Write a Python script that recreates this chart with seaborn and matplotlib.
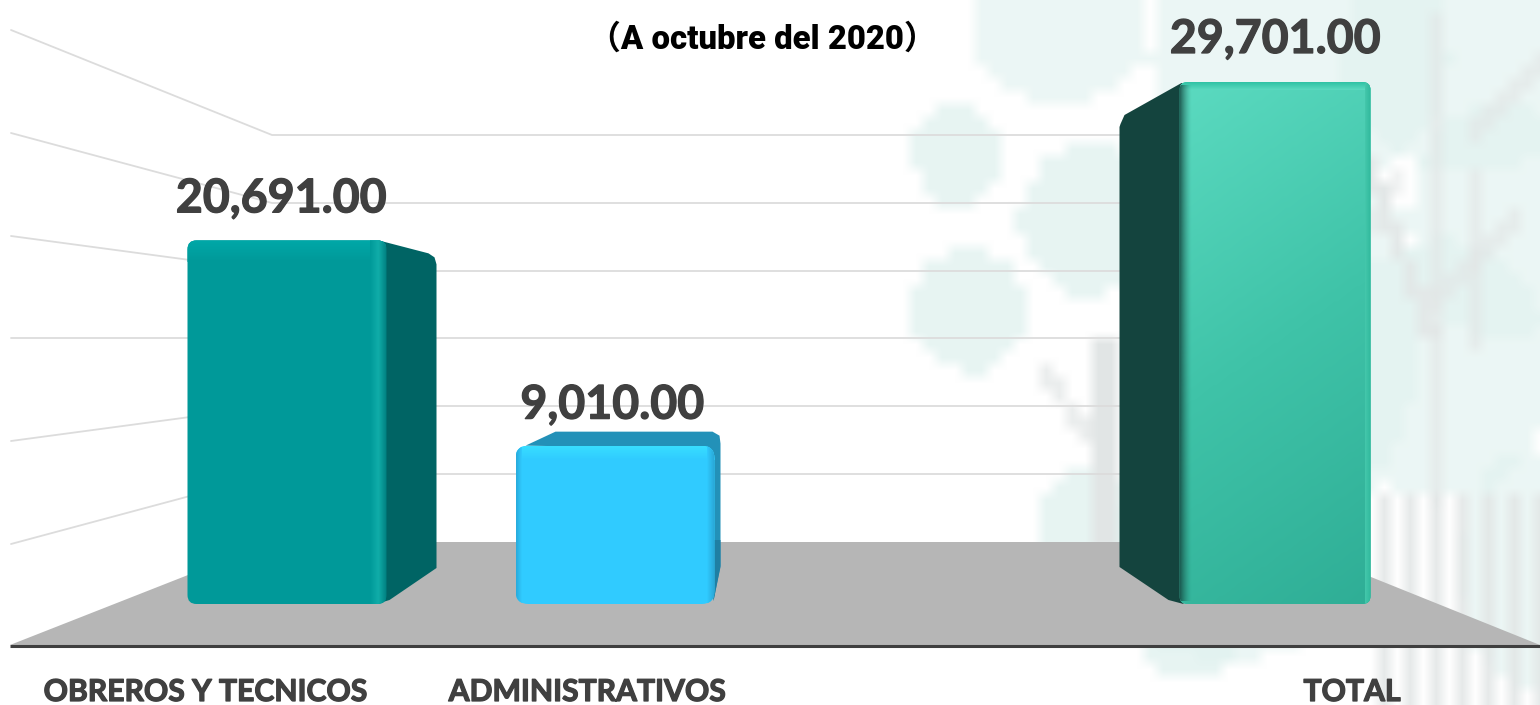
import numpy as np
import pandas as pd
import matplotlib
matplotlib.use('Agg')
import matplotlib.pyplot as plt
import matplotlib.patheffects as pe
import seaborn as sns
from matplotlib.patches import FancyBboxPatch, Polygon, Rectangle
from matplotlib.transforms import Affine2D
from matplotlib.colors import LinearSegmentedColormap, to_rgb

# data
categories = ['OBREROS Y TECNICOS', 'ADMINISTRATIVOS', 'TOTAL']
values = [20691, 9010, 29701]
value_labels = ['20,691.00', '9,010.00', '29,701.00']
slots = ['OBREROS Y TECNICOS', 'ADMINISTRATIVOS', ' ', 'TOTAL']
front_colors = ['#009999', '#30CBFF', '#45C8AC']
subtitle = '（A octubre del 2020）'

W, H = 1540, 705
sns.set_theme(style='white')
plt.rcParams['font.family'] = ['Lato', 'DejaVu Sans']

fig = plt.figure(figsize=(W / 100, H / 100), dpi=100, facecolor='white')

# background layer works in picture pixels
bg = fig.add_axes([0, 0, 1, 1])
bg.set_xlim(0, W)
bg.set_ylim(H, 0)
bg.axis('off')

# pale blocky watermark on a coarse grid
cell = 13
gx, gy = np.meshgrid(np.arange(0, W + cell, cell) + cell / 2, np.arange(0, H + cell, cell) + cell / 2)
paper = np.ones(gx.shape + (3,))
teal = np.array([0.875, 0.945, 0.935])
gray = np.array([0.885, 0.9, 0.9])


def blob(cx, cy, rx, ry, col, mix=1.0):
    m = ((gx - cx) / rx) ** 2 + ((gy - cy) / ry) ** 2 < 1
    paper[m] = paper[m] * (1 - mix) + col * mix


def stroke(x0, y0, x1, y1, w, col, mix=1.0):
    dx, dy = x1 - x0, y1 - y0
    t = np.clip(((gx - x0) * dx + (gy - y0) * dy) / (dx * dx + dy * dy), 0, 1)
    m = np.hypot(gx - x0 - t * dx, gy - y0 - t * dy) < w
    paper[m] = paper[m] * (1 - mix) + col * mix


for b in [(1060, 30, 85, 75), (1300, 60, 150, 130), (1470, 60, 130, 110), (1440, 370, 115, 130),
          (1290, 330, 130, 210), (1530, 570, 70, 120), (1230, 560, 130, 100), (1500, 220, 90, 120)]:
    blob(*b, teal, 0.6)
for b in [(958, 155, 45, 50), (1090, 220, 70, 75), (970, 310, 58, 62), (1090, 525, 55, 60),
          (1190, 645, 42, 35)]:
    blob(*b, teal, 0.75)
stroke(1105, 340, 1105, 545, 7, gray)
stroke(1040, 365, 1090, 440, 8, gray, 0.7)
stroke(1370, 170, 1430, 330, 8, gray, 0.8)
stroke(1440, 20, 1440, 500, 8, gray, 0.6)
stroke(1480, 170, 1480, 350, 8, gray, 0.6)
stroke(1540, 60, 1480, 130, 8, gray, 0.6)
stroke(1520, 220, 1440, 300, 8, gray, 0.6)
stroke(1400, 180, 1360, 230, 8, gray, 0.5)
for sx in range(1380, 1540, 26):
    stroke(sx, 500, sx, 705, 6, gray, 0.85)
bg.imshow(paper, extent=(0, gx.shape[1] * cell, gx.shape[0] * cell, 0), aspect='auto',
          interpolation='bilinear', zorder=0)
bg.set_xlim(0, W)
bg.set_ylim(H, 0)

# wall and floor
grid_col = '#DCDCDC'
wall_left = [30, 133, 236, 338, 441, 544]
wall_back = [135, 203, 271, 338, 406, 474]
for yl, yb in zip(wall_left, wall_back):
    bg.plot([11, 272, 1284], [yl, yb, yb], color=grid_col, lw=1.3, zorder=1)
bg.add_patch(Polygon([(10, 645), (272, 542), (1284, 542), (1540, 645)], closed=True,
                     fc='#B6B6B6', ec='none', zorder=2))
bg.plot([10, W], [646, 646], color='#3F3F3F', lw=2.2, zorder=3, solid_capstyle='butt')

# bars on the value scale
ax = fig.add_axes([0, 0, 1, 1], facecolor='none')
df = pd.DataFrame({'grupo': categories, 'valor': values})
sns.barplot(data=df, x='grupo', y='valor', hue='grupo', order=slots, hue_order=categories,
            palette=front_colors, width=199 / 328, legend=False, saturation=1, ax=ax, zorder=5,
            linewidth=0)
ax.set_xlim(-287 / 328, (W - 287) / 328)
ax.set_ylim(-(H - 604) / 0.017575, 604 / 0.017575)
ax.axis('off')

px = Affine2D().scale(1, -1).translate(0, H)
bars = [p for p in ax.patches if p.get_height() > 0]
bars.sort(key=lambda p: p.get_x())


def box(bar):
    (x0, y0), (x1, y1) = ax.transData.transform(
        [(bar.get_x(), 0), (bar.get_x() + bar.get_width(), bar.get_height())])
    return x0, H - y1, x1, H - y0


def poly(pts, col, z=4):
    ax.add_patch(Polygon(pts, closed=True, fc=col, ec='none', transform=px, zorder=z))


def gradient(x0, y0, x1, y1, colors, clip, vertical=True, z=6, diag=False):
    cm = LinearSegmentedColormap.from_list('g', colors)
    if diag:
        u, v = np.meshgrid(np.linspace(0, 1, 60), np.linspace(0, 1, 200))
        arr = 0.2 * u + 0.8 * v
    elif vertical:
        arr = np.linspace(0, 1, 100)[:, None]
    else:
        arr = np.linspace(0, 1, 100)[None, :]
    im = ax.imshow(arr, cmap=cm, vmin=0, vmax=1, extent=(x0, x1, y1, y0), aspect='auto',
                   transform=px, zorder=z, interpolation='bilinear')
    im.set_clip_path(clip)
    return im


xlim, ylim = ax.get_xlim(), ax.get_ylim()

# obreros
x0, y0, x1, y1 = box(bars[0])
poly([(x1 - 8, y0), (x1 + 42, y0 + 13), (x1 + 48, y0 + 17), (x1 + 50, y0 + 24), (x1 + 50, 568),
      (x1 + 3, 600), (x1 - 10, y1)], '#006464')
clip = FancyBboxPatch((x0, y0), x1 - x0, y1 - y0, boxstyle='round,pad=0,rounding_size=9',
                      transform=px, fc='none', ec='none')
ax.add_patch(clip)
bars[0].set_clip_path(clip)
gradient(x0, y0, x1, y0 + 22, ['#00A8A8', '#009999'], clip)
gradient(x1 - 16, y0, x1 + 1, y1, ['#009999', '#10ADA9', '#007E7E'], clip, vertical=False, z=7)

# administrativos
x0, y0, x1, y1 = box(bars[1])
poly([(x0 + 10, y0), (x0 + 40, y0 - 14), (x1 - 2, y0 - 14), (x1 + 5, y0 - 10), (x1 + 6, y0 - 2),
      (x1 + 6, y0 + 120), (x1 - 1, y1 - 3), (x1 - 5, y0 + 3)], '#2391B8')
poly([(x1 + 6, 540), (x1 + 6, 567), (x1 - 1, y1 - 3), (x1 - 3, 540)], '#1F7FA3', z=4.5)
clip = FancyBboxPatch((x0, y0), x1 - x0, y1 - y0, boxstyle='round,pad=0,rounding_size=13',
                      transform=px, fc='none', ec='none')
ax.add_patch(clip)
bars[1].set_clip_path(clip)
gradient(x0, y0, x1, y0 + 14, ['#38DEFF', '#30CBFF'], clip)
gradient(x1 - 7, y0, x1, y1, ['#30CBFF', '#2AA8D8'], clip, vertical=False, z=7)
gradient(x0, y0, x0 + 6, y1, ['#29A9DA', '#30CBFF'], clip, vertical=False, z=7)

# total
x0, y0, x1, y1 = box(bars[2])
front = x0 + 8
poly([(x0 + 10, y0 + 1), (x0 - 47, y0 + 33), (x0 - 51, y0 + 42), (x0 - 52, y0 + 45),
      (x0 - 52, 567), (x0 - 3, 600), (x0 + 12, y1), (x0 + 12, y0 + 1)], '#14443E')
clip = FancyBboxPatch((front, y0), x1 - front, y1 - y0, boxstyle='round,pad=0,rounding_size=8',
                      transform=px, fc='none', ec='none')
ax.add_patch(clip)
bars[2].set_clip_path(clip)
gradient(front, y0, x1, y1, ['#5BDAC0', '#3FC3A8', '#2FAE96'], clip, diag=True)
gradient(front, y0, x1, y0 + 8, ['#2FC2A4', '#5BDAC0'], clip, z=7)
gradient(x1 - 6, y0, x1, y1, ['#45C8AC', '#2FB89C'], clip, vertical=False, z=7)
# soft shadow where the dark side meets the front
shade = np.zeros((1, 60, 4))
shade[..., :3] = to_rgb('#14443E')
shade[..., 3] = np.linspace(1, 0, 60) ** 1.5
im = ax.imshow(shade, extent=(x0 + 6, x0 + 20, y1 - 3, y0 + 3), aspect='auto', transform=px, zorder=8)
im.set_clip_path(clip)

ax.set_xlim(xlim)
ax.set_ylim(ylim)

# texts
label_dx = [-6, -3, 4]
label_dy = [-42, -41, -43]
thick = [pe.withStroke(linewidth=0.9, foreground='#404040')]
for bar, txt, dx, dy in zip(bars, value_labels, label_dx, label_dy):
    ax.annotate(txt, (bar.get_x() + bar.get_width() / 2, bar.get_height()), xytext=(dx, -dy),
                textcoords='offset pixels', ha='center', va='center', fontsize=33.5,
                fontweight='bold', color='#404040', zorder=10, path_effects=thick)

cat_x = [205, 587, 1352]
for x, name in zip(cat_x, categories):
    bg.text(x, 692, name, ha='center', va='center', fontsize=21.7, fontweight='bold',
            color='#404040', zorder=10, path_effects=thick)

bg.text(762, 40, subtitle, ha='center', va='center', fontsize=23.7, fontweight='black',
        family=['Roboto', 'Noto Sans CJK SC'], color='black', zorder=10)

fig.savefig('out.png', dpi=100)
